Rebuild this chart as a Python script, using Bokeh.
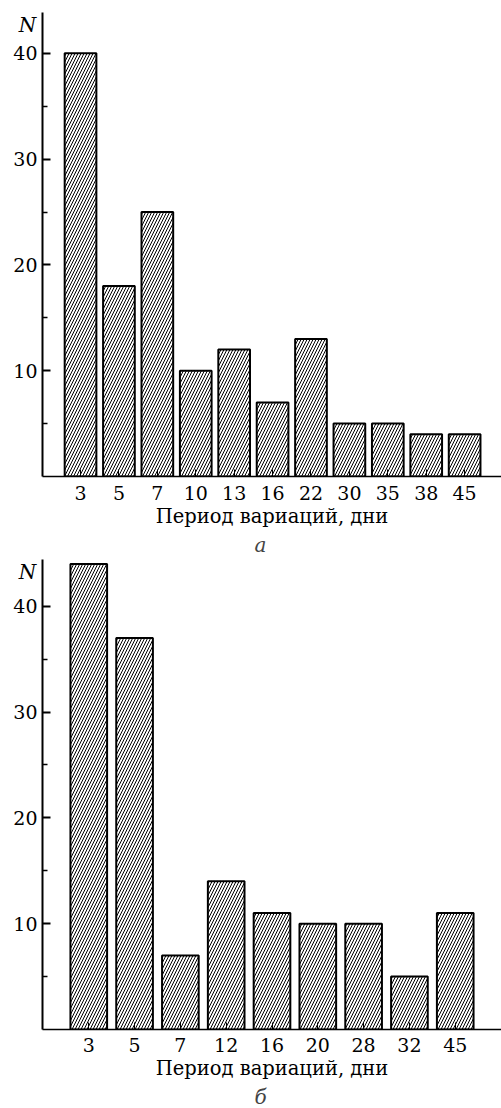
from bokeh.plotting import figure
from bokeh.layouts import column
from bokeh.models import FixedTicker, Title, Range1d
from bokeh.embed import file_html
from bokeh.resources import INLINE

# ---- data ----
periods_a = ["3", "5", "7", "10", "13", "16", "22", "30", "35", "38", "45"]
counts_a = [40, 18, 25, 10, 12, 7, 13, 5, 5, 4, 4]
periods_b = ["3", "5", "7", "12", "16", "20", "28", "32", "45"]
counts_b = [44, 37, 7, 14, 11, 10, 10, 5, 11]
y_major = [10, 20, 30, 40]
y_minor = [5, 15, 25, 35]
x_title = "Период вариаций, дни"
y_title = "N"
captions = ["а", "б"]

FONT = "DejaVu Serif"


def make(periods, counts, caption, x_range, y_end, frame_h, bar_w, top_border,
         tick_standoff):
    p = figure(frame_width=459, frame_height=frame_h,
               x_range=Range1d(*x_range), y_range=Range1d(0, y_end),
               output_backend="svg", toolbar_location=None,
               min_border_left=42, min_border_right=0,
               min_border_top=top_border, min_border_bottom=0)
    p.outline_line_color = None
    p.xgrid.visible = False
    p.ygrid.visible = False
    xs = list(range(len(counts)))
    p.vbar(x=xs, top=counts, bottom=0, width=bar_w,
           fill_color="white", line_color="black", line_width=2,
           hatch_pattern="/", hatch_color="black", hatch_scale=6,
           hatch_weight=1)

    ya = p.yaxis[0]
    ya.ticker = FixedTicker(ticks=y_major, minor_ticks=y_minor)
    ya.axis_line_width = 2
    ya.major_tick_in = 8
    ya.major_tick_out = 0
    ya.major_tick_line_width = 2
    ya.minor_tick_in = 5
    ya.minor_tick_out = 0
    ya.minor_tick_line_width = 1.5
    ya.major_label_text_font = FONT
    ya.major_label_text_font_size = "19px"
    ya.major_label_text_color = "black"
    ya.major_label_standoff = 5
    # "N" sits at the top end of the axis, one line below the axis end
    ya.axis_label = "\n" + y_title
    ya.axis_label_orientation = "horizontal"
    ya.axis_label_text_font = FONT
    ya.axis_label_text_font_style = "italic"
    ya.axis_label_text_font_size = "20px"
    ya.axis_label_text_line_height = 1.0
    ya.axis_label_text_color = "black"
    ya.axis_label_standoff = -26
    try:
        ya.axis_label_align = "end"
    except Exception:
        pass

    xa = p.xaxis[0]
    xa.ticker = FixedTicker(ticks=xs, minor_ticks=[])
    xa.major_label_overrides = {i: lab for i, lab in enumerate(periods)}
    xa.axis_line_width = 1.5
    xa.major_tick_in = 7
    xa.major_tick_out = 0
    xa.major_tick_line_width = 1
    xa.minor_tick_line_color = None
    xa.major_label_text_font = FONT
    xa.major_label_text_font_size = "19px"
    xa.major_label_text_color = "black"
    xa.major_label_standoff = tick_standoff
    xa.axis_label = x_title
    xa.axis_label_text_font = FONT
    xa.axis_label_text_font_size = "19.5px"
    xa.axis_label_text_font_style = "normal"
    xa.axis_label_text_color = "black"
    xa.axis_label_standoff = 2

    p.add_layout(Title(text=caption, align="left", offset=212,
                       text_font=FONT, text_font_style="italic",
                       text_font_size="20px", standoff=0), "below")
    return p


p1 = make(periods_a, counts_a, captions[0], (-0.99, 10.96), 43.86, 464, 0.825,
          12, 9)
p2 = make(periods_b, counts_b, captions[1], (-1.01, 9.01), 44.42, 470, 0.80,
          3, 8)

layout = column(p1, p2, spacing=0)
open("out.html", "w").write(file_html(layout, INLINE))
